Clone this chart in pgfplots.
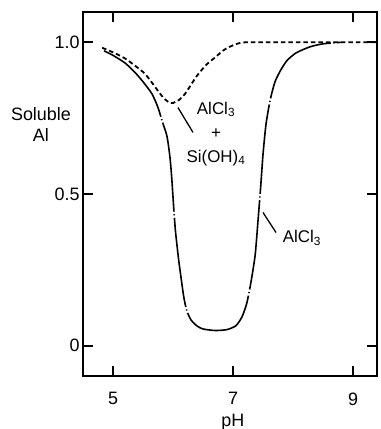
\documentclass[border=0pt]{standalone}
\usepackage{fontspec}
\setmainfont{Liberation Sans}
\usepackage{pgfplots}
\pgfplotsset{compat=1.18}
\begin{document}
\begin{tikzpicture}
\useasboundingbox (-83bp,-53bp) rectangle (298bp,376bp);
\begin{axis}[
 scale only axis, width=294bp, height=364bp,
 xmin=4.5, xmax=9.4, ymin=-0.1, ymax=1.1,
 axis line style={line width=1.7bp},
 xtick={5,7,9}, ytick={0,0.5,1}, yticklabels={0,0.5,1.0},
 tick align=inside, major tick length=10bp,
 every tick/.style={line width=1.7bp, black},
 tick label style={font=\fontsize{18}{18}\selectfont},
 /pgf/number format/assume math mode=true,
 xticklabel style={yshift=-13bp},
 xlabel={pH},
 every axis x label/.style={at={(axis description cs:0.51,-0.127)},anchor=center,font=\fontsize{18}{22}\selectfont},
 ylabel={Soluble\\Al},
 every axis y label/.style={at={(axis description cs:-0.143,0.691)},anchor=center,align=center,font=\fontsize{18}{22}\selectfont},
 clip=false,
]
% AlCl3 (solid)
\addplot[black, line width=1.6bp, smooth, tension=0.4, dash pattern={on 90bp off 2.5bp on 1.2bp off 2.5bp}] coordinates {
(4.85,0.972) (5.0,0.957) (5.2,0.932) (5.37,0.90) (5.5,0.87) (5.65,0.83) (5.75,0.785) (5.82,0.74) (5.9,0.69) (5.95,0.62) (5.98,0.55) (6.01,0.46) (6.04,0.38) (6.09,0.29) (6.13,0.23) (6.18,0.16) (6.23,0.115) (6.3,0.085) (6.4,0.065) (6.5,0.055) (6.7,0.05) (6.9,0.053) (7.05,0.066) (7.15,0.095) (7.23,0.14) (7.3,0.21) (7.37,0.30) (7.42,0.42) (7.46,0.52) (7.5,0.63) (7.55,0.73) (7.62,0.81) (7.7,0.87) (7.8,0.91) (7.9,0.94) (8.05,0.965) (8.28,0.985) (8.5,0.995) (8.8,1.0)
};
% AlCl3 + Si(OH)4 (dashed)
\addplot[black, line width=1.8bp, smooth, tension=0.4, dash pattern={on 4.5bp off 3bp}] coordinates {
(4.82,0.982) (5.0,0.967) (5.2,0.947) (5.4,0.918) (5.53,0.897) (5.65,0.867) (5.75,0.84) (5.85,0.815) (5.95,0.80) (6.0,0.80) (6.1,0.81) (6.2,0.83) (6.3,0.86) (6.4,0.89) (6.55,0.925) (6.7,0.95) (6.85,0.975) (7.0,0.99) (7.2,1.0) (8.0,1.0) (9.4,1.0)
};
\node[align=center, font=\fontsize{17}{24}\selectfont] at (axis cs:6.717,0.698) {AlCl\textsubscript{3}\\+\\Si(OH)\textsubscript{4}};
\draw[line width=1.3bp] (axis cs:6.083,0.785) -- (axis cs:6.333,0.703);
\node[font=\fontsize{17}{20}\selectfont] at (axis cs:8.15,0.356) {AlCl\textsubscript{3}};
\draw[line width=1.3bp] (axis cs:7.5,0.439) -- (axis cs:7.717,0.373);
\end{axis}
\end{tikzpicture}
\end{document}
